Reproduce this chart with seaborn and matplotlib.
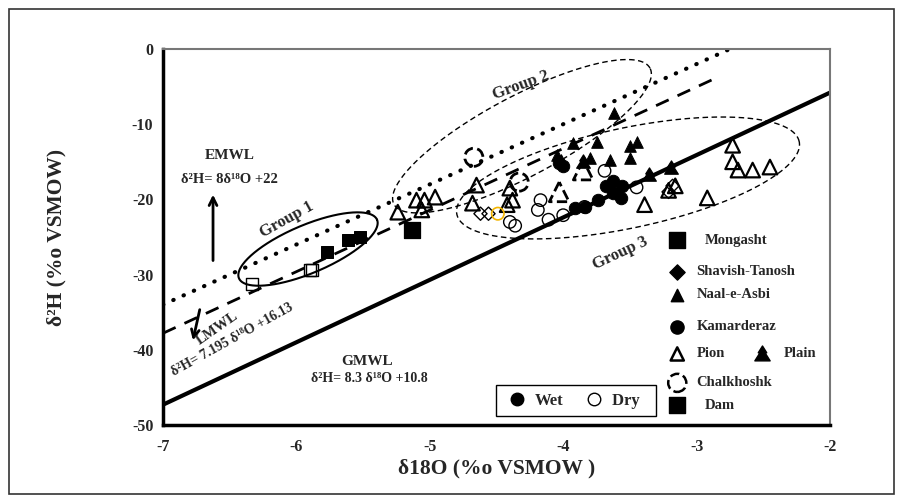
import numpy as np
import seaborn as sns
import matplotlib.pyplot as plt
from matplotlib.path import Path
from matplotlib.lines import Line2D
from matplotlib.patches import Rectangle

# values: d18O (x) and d2H (y)
mongasht_wet_x = [-5.77, -5.61, -5.52]
mongasht_wet_y = [-27.0, -25.4, -25.0]
mongasht_dry_x = [-6.33, -5.90, -5.88]
mongasht_dry_y = [-31.2, -29.4, -29.4]
dam_x = [-5.13]
dam_y = [-24.1]
shavish_x = [-4.62, -4.56, -3.21, -3.18]
shavish_y = [-21.9, -21.9, -19.0, -18.2]
naal_x = [-3.62, -3.93, -3.75, -3.45, -3.80, -3.50, -3.65, -4.05, -4.02, -3.50]
naal_y = [-8.5, -12.5, -12.4, -12.4, -14.5, -14.5, -14.8, -14.1, -14.8, -12.9]
plain_x = [-3.85, -3.36, -3.19]
plain_y = [-15.0, -16.8, -15.8]
kam_wet_x = [-4.00, -4.03, -3.84, -3.74, -3.68, -3.63, -3.63, -3.57, -3.56, -3.91]
kam_wet_y = [-15.6, -15.1, -21.0, -20.1, -18.2, -17.6, -19.1, -19.8, -18.2, -21.2]
kam_dry_x = [-4.17, -4.19, -4.11, -4.00, -4.40, -4.36, -3.69, -3.45, -3.84]
kam_dry_y = [-20.1, -21.4, -22.7, -22.1, -23.0, -23.5, -16.2, -18.4, -21.0]
yellow_x = [-4.49]
yellow_y = [-21.9]
pion_x = [-5.24, -5.10, -5.04, -4.96, -5.06, -4.65, -4.68, -4.40, -4.38, -4.42,
          -2.73, -2.73, -2.69, -2.58, -2.45, -2.92, -3.39, -3.16, -3.21]
pion_y = [-21.7, -20.1, -20.1, -19.7, -21.4, -18.1, -20.5, -18.5, -20.1, -20.7,
          -12.8, -15.0, -16.1, -16.1, -15.7, -19.8, -20.7, -18.2, -18.8]
chalk_circ_x = [-4.67, -4.33]
chalk_circ_y = [-14.4, -17.7]
chalk_tri_x = [-4.03, -3.85]
chalk_tri_y = [-19.0, -16.1]

# meteoric water lines (end points)
gmwl_x = [-7, -2]
gmwl_y = [-47.3, -5.8]
lmwl_x = [-7, -2.86]
lmwl_y = [-37.8, -3.9]
emwl_x = [-7, -2.75]
emwl_y = [-34.0, 0.0]

sns.set_style("white")
plt.rcParams["font.family"] = ["Liberation Serif", "DejaVu Serif"]
plt.rcParams["font.weight"] = "bold"
plt.rcParams["axes.unicode_minus"] = False

fig = plt.figure(figsize=(9.03, 5.03), dpi=100)
ax = fig.add_axes([163 / 903, 1 - 425 / 503, 667 / 903, 376 / 503])
fig.patches.append(Rectangle((0.010, 0.018), 0.980, 0.964, transform=fig.transFigure,
                             fill=False, edgecolor="#333333", lw=1.2))

# tree-like marker for "Plain"
tree = Path([(0, 1), (0.5, 0.2), (0.3, 0.2), (0.9, -0.75), (-0.9, -0.75),
             (-0.3, 0.2), (-0.5, 0.2), (0, 1)], closed=True)

ax.plot(gmwl_x, gmwl_y, color="black", lw=3)
ax.plot(lmwl_x, lmwl_y, color="black", lw=2, dashes=(5, 3.5))
ax.plot(emwl_x, emwl_y, color="black", lw=3, dashes=(0.1, 2.6), dash_capstyle="round")

# group ellipses (semi axes in pixels)
SX, SY = 667 / 5, 376 / 50


def ellipse(cx, cy, a, b, ang, **kw):
    t = np.linspace(0, 2 * np.pi, 300)
    th = np.radians(ang)
    dx = a * np.cos(t) * np.cos(th) - b * np.sin(t) * np.sin(th)
    dy = a * np.cos(t) * np.sin(th) + b * np.sin(t) * np.cos(th)
    ax.plot(cx + dx / SX, cy + dy / SY, **kw)


ellipse(-5.913, -26.6, 75, 24, 23, color="black", lw=1.5)
ellipse(-4.309, -11.6, 145, 40, 28, color="black", lw=1, dashes=(4, 2.5))
ellipse(-3.514, -17.15, 175, 50, 12, color="black", lw=1, dashes=(4, 2.5))

kw = dict(ax=ax, legend=False, zorder=3)
sns.scatterplot(x=pion_x, y=pion_y, marker="^", s=110, facecolors="none",
                edgecolor="black", linewidth=1.6, **kw)
sns.scatterplot(x=mongasht_dry_x, y=mongasht_dry_y, marker="s", s=75, facecolors="none",
                edgecolor="black", linewidth=1, **kw)
sns.scatterplot(x=mongasht_wet_x, y=mongasht_wet_y, marker="s", s=80, color="black",
                edgecolor="black", **kw)
sns.scatterplot(x=dam_x, y=dam_y, marker="s", s=130, color="black", edgecolor="black", **kw)
sns.scatterplot(x=shavish_x, y=shavish_y, marker="D", s=45, facecolors="none",
                edgecolor="black", linewidth=1, **kw)
sns.scatterplot(x=kam_dry_x, y=kam_dry_y, marker="o", s=80, facecolors="none",
                edgecolor="black", linewidth=1, **kw)
sns.scatterplot(x=yellow_x, y=yellow_y, marker="o", s=80, facecolors="none",
                edgecolor="#f2b400", linewidth=1.2, **kw)
sns.scatterplot(x=kam_wet_x, y=kam_wet_y, marker="o", s=80, color="black", edgecolor="black", **kw)
sns.scatterplot(x=naal_x, y=naal_y, marker="^", s=70, color="black", edgecolor="black", **kw)
sns.scatterplot(x=plain_x, y=plain_y, marker=tree, s=120, color="black", edgecolor="black", **kw)
sns.scatterplot(x=chalk_circ_x, y=chalk_circ_y, marker="o", s=170, facecolors="none",
                edgecolor="black", linewidth=2, linestyles="--", **kw)
sns.scatterplot(x=chalk_tri_x, y=chalk_tri_y, marker="^", s=200, facecolors="none",
                edgecolor="black", linewidth=2, linestyles="--", **kw)

# annotations
ax.text(-6.50, -14.2, "EMWL", ha="center", va="center", fontsize=11)
ax.text(-6.50, -17.3, "δ²H= 8δ¹⁸O +22", ha="center", va="center", fontsize=10.5)
ax.annotate("", xy=(-6.625, -19.0), xytext=(-6.625, -28.5),
            arrowprops=dict(arrowstyle="->", lw=2, color="black", mutation_scale=14))
ax.annotate("", xy=(-6.78, -39.1), xytext=(-6.72, -34.3),
            arrowprops=dict(arrowstyle="->", lw=2, color="black", mutation_scale=14))
ax.text(-6.59, -37.1, "LMWL", ha="center", va="center", fontsize=10.5, rotation=35)
ax.text(-6.48, -38.6, "δ²H= 7.195 δ¹⁸O +16.13", ha="center", va="center", fontsize=10, rotation=29)
ax.text(-5.47, -41.5, "GMWL", ha="center", va="center", fontsize=11)
ax.text(-5.45, -43.8, "δ²H= 8.3 δ¹⁸O +10.8", ha="center", va="center", fontsize=10)
ax.text(-6.07, -22.7, "Group 1", ha="center", va="center", fontsize=12, rotation=29)
ax.text(-4.32, -4.8, "Group 2", ha="center", va="center", fontsize=12, rotation=20)
ax.text(-3.57, -27.1, "Group 3", ha="center", va="center", fontsize=12, rotation=25)

# site key on the right (axes coordinates)
key_x, text_x = 0.771, 0.800
key = [("s", "black", "Mongasht", 0.492, 120),
       ("D", "black", "Shavish-Tanosh", 0.407, 60),
       ("^", "black", "Naal-e-Asbi", 0.346, 80),
       ("o", "black", "Kamarderaz", 0.261, 90),
       ("^", "none", "Pion", 0.189, 90),
       ("o", "none", "Chalkhoshk", 0.112, 170),
       ("s", "black", "Dam", 0.053, 140)]
for m, fc, name, yy, s in key:
    ls = "--" if name == "Chalkhoshk" else "-"
    ax.scatter([key_x], [yy], marker=m, s=s, facecolors=fc, edgecolors="black",
               linewidths=1.8 if fc == "none" else 1, linestyles=ls,
               transform=ax.transAxes, clip_on=False, zorder=4)
    ax.text(text_x + (0.012 if name in ("Mongasht", "Dam") else 0), yy, name,
            transform=ax.transAxes, va="center", ha="left", fontsize=10.5)
ax.scatter([0.898], [0.189], marker=tree, s=150, color="black", transform=ax.transAxes)
ax.text(0.930, 0.189, "Plain", transform=ax.transAxes, va="center", fontsize=10.5)

handles = [Line2D([], [], ls="", marker="o", ms=9, mfc="black", mec="black"),
           Line2D([], [], ls="", marker="o", ms=9, mfc="none", mec="black")]
ax.legend(handles, ["Wet", "Dry  "], ncol=2, loc="center", bbox_to_anchor=(0.619, 0.064),
          frameon=True, fancybox=False, edgecolor="black", framealpha=1,
          prop=dict(size=12, weight="bold"), handletextpad=0.3, columnspacing=1.0,
          borderpad=0.45, handlelength=1.6)

ax.set_xlim(-7, -2)
ax.set_ylim(-50, 0)
ax.set_xticks([-7, -6, -5, -4, -3, -2])
ax.set_yticks([0, -10, -20, -30, -40, -50])
ax.tick_params(length=0, labelsize=11.5)
ax.tick_params(axis="x", pad=10)
ax.tick_params(axis="y", pad=7)
for lab in ax.get_xticklabels() + ax.get_yticklabels():
    lab.set_fontweight("bold")
for side in ["left", "bottom"]:
    ax.spines[side].set_linewidth(2.5)
    ax.spines[side].set_color("black")
for side in ["top", "right"]:
    ax.spines[side].set_linewidth(1.5)
    ax.spines[side].set_color("#777777")

ax.set_xlabel("δ18O (%o VSMOW )", fontsize=15.5, fontweight="bold")
ax.set_ylabel("δ²H (%o VSMOW)", fontsize=15.5, fontweight="bold")
ax.xaxis.set_label_coords(0.5, -0.09)
ax.yaxis.set_label_coords(-0.145, 0.5)

fig.savefig("out.png", dpi=100)
